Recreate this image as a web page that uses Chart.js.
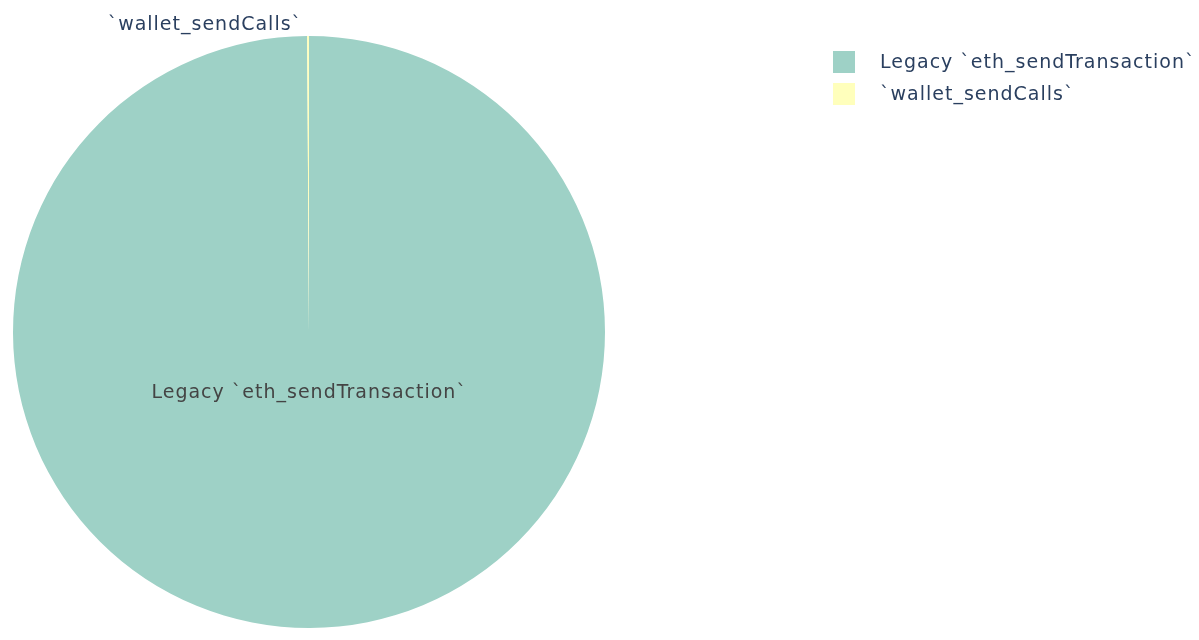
<!DOCTYPE html>
<html>
<head>
<meta charset="utf-8">
<script src="https://cdn.jsdelivr.net/npm/chart.js@4"></script>
<style>
  html, body { margin: 0; padding: 0; background: #fff; }
  #wrap { width: 1199px; height: 640px; }
</style>
</head>
<body>
<div id="wrap"><canvas id="pieChart" width="1199" height="640"></canvas></div>
<script>
// === Data ===
const labels = ["Legacy `eth_sendTransaction`", "`wallet_sendCalls`"];
const values = [99.9, 0.1];
const colors = ["#9ed1c6", "#ffffbc"];

const FONT = "'DejaVu Sans', Verdana, sans-serif";

// === Slice labels + legend drawn by hand ===
const labelPlugin = {
  id: "sliceLabels",
  afterDatasetsDraw(chart) {
    const c = chart.ctx;
    const arcs = chart.getDatasetMeta(0).data;
    c.save();
    c.font = "19px " + FONT;
    c.letterSpacing = "1px";

    // big slice: label inside, below centre
    const a0 = arcs[0];
    const mid0 = (a0.startAngle + a0.endAngle) / 2;
    c.fillStyle = "#444444";
    c.textAlign = "center";
    c.textBaseline = "middle";
    c.fillText(labels[0], a0.x + Math.cos(mid0) * a0.outerRadius * 0.2, a0.y + 2 + Math.sin(mid0) * a0.outerRadius * 0.2);

    // tiny slice: label outside, above the arc
    const a1 = arcs[1];
    const mid1 = (a1.startAngle + a1.endAngle) / 2;
    c.fillStyle = "#2a3f5f";
    c.textAlign = "right";
    c.textBaseline = "alphabetic";
    c.fillText(labels[1], a1.x + Math.cos(mid1) * a1.outerRadius - 6, a1.y + Math.sin(mid1) * a1.outerRadius - 6);

    // legend
    labels.forEach((lab, i) => {
      const y = 62 + i * 32;
      c.fillStyle = colors[i];
      c.fillRect(833, y - 11, 22, 22);
      c.fillStyle = "#2a3f5f";
      c.textAlign = "left";
      c.textBaseline = "middle";
      c.fillText(lab, 880, y + 1);
    });
    c.restore();
  }
};

new Chart(document.getElementById("pieChart").getContext("2d"), {
  type: "pie",
  data: {
    labels: labels,
    datasets: [{
      data: values,
      backgroundColor: colors,
      borderWidth: 0
    }]
  },
  options: {
    responsive: false,
    animation: false,
    layout: { padding: { left: 13, right: 594, top: 36, bottom: 12 } },
    plugins: {
      legend: { display: false },
      tooltip: { enabled: false }
    }
  },
  plugins: [labelPlugin]
});
</script>
</body>
</html>
